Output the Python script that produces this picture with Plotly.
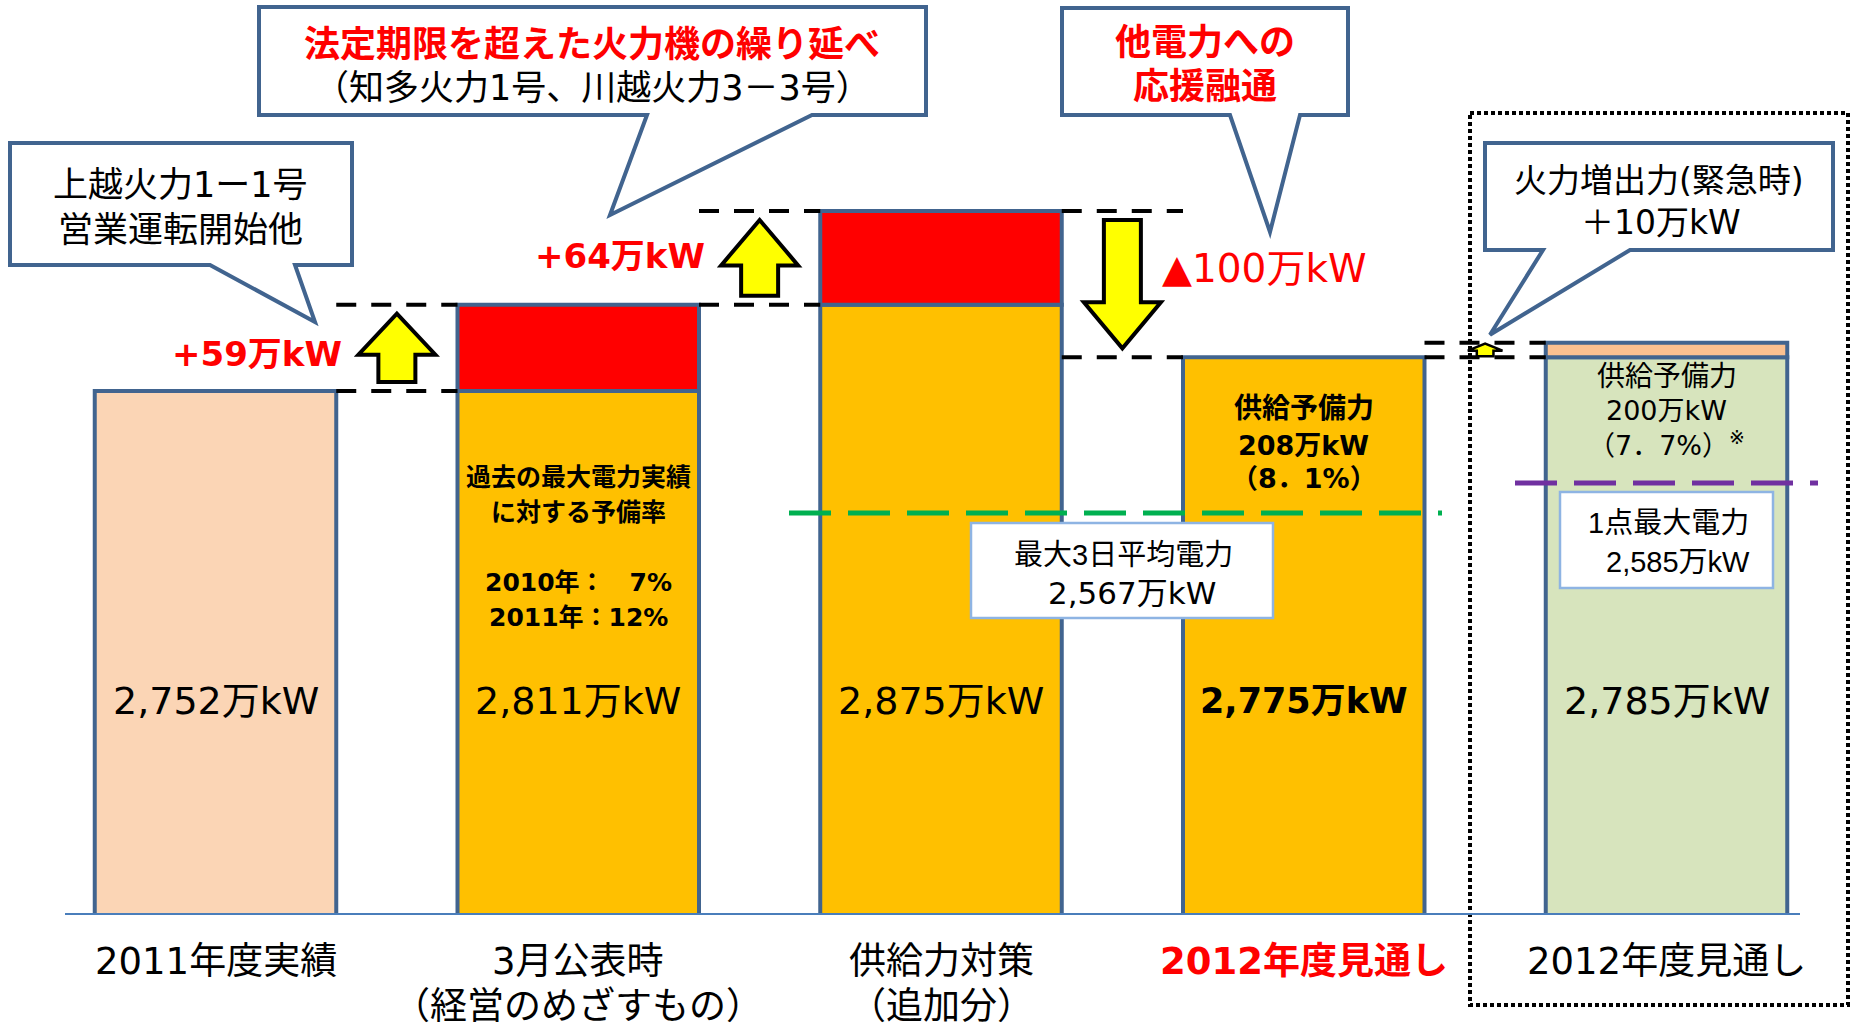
import plotly.graph_objects as go

# ---------------- data (万kW) ----------------
categories = ["2011年度実績", "3月公表時", "供給力対策", "2012年度見通し", "2012年度見通し"]
category_notes = ["", "（経営のめざすもの）", "（追加分）", "", ""]
supply_total = [2752, 2811, 2875, 2775, 2785]
supply_change = [None, 59, 64, -100, 10]
avg3day_peak = 2567      # 最大3日平均電力
one_point_peak = 2585    # 1点最大電力
reserve_main = [208, 8.1]   # 供給予備力 (万kW, %)
reserve_alt = [200, 7.7]
past_reserve_years = ["2010年", "2011年"]
past_reserve_rates = [7, 12]

# ---------------- derived ----------------
base_part, top_part = [], []
for t, c in zip(supply_total, supply_change):
    if c is not None and c > 0:
        base_part.append(t - c)
        top_part.append(c)
    else:
        base_part.append(t)
        top_part.append(None)
idx = list(range(len(categories)))

# ---------------- styles / geometry ----------------
FONT = "DejaVu Sans, Noto Sans CJK JP, sans-serif"
FONT_N = "Liberation Sans, Noto Sans CJK JP, sans-serif"
EDGE = "#41648f"
base_colors = ["#fbd5b5", "#ffc000", "#ffc000", "#ffc000", "#d7e4bd"]
top_colors = ["#fbd5b5", "#ff0000", "#ff0000", "#ffc000", "#fac090"]
W, H = 1857, 1028
PB = 914                 # plot bottom (px)
X0, DX = 215.5, 362.75   # px of first category, px per category
K = 1.4634               # px per 万kW on main axis
Y_FLOOR = 2394.6         # truncated axis origin
Y_TOP = Y_FLOOR + PB / K
Y2_RANGE = [2326.4, 2874.8]  # guide-line axis (schematic)
BW = 241.5 / DX


def xp(px):
    return px / W


def yp(py):
    return (PB - py) / PB


def xd(px):
    return (px - X0) / DX


def ypx(v):
    return PB - (v - Y_FLOOR) * K


fig = go.Figure()
fig.add_bar(x=idx, y=base_part, width=BW, marker=dict(color=base_colors, line=dict(color=EDGE, width=4)),
            hoverinfo="skip")
fig.add_bar(x=idx, y=top_part, base=base_part, width=BW,
            marker=dict(color=top_colors, line=dict(color=EDGE, width=4)), hoverinfo="skip")

# guide lines (schematic axis y2)
fig.add_scatter(x=[xd(789), xd(1442)], y=[avg3day_peak] * 2, yaxis="y2", mode="lines",
                line=dict(color="#00b050", width=5, dash="42px,17px"), hoverinfo="skip")
fig.add_scatter(x=[xd(1515), xd(1818)], y=[one_point_peak] * 2, yaxis="y2", mode="lines",
                line=dict(color="#7030a0", width=5, dash="42px,17px"), hoverinfo="skip")

shapes = []
ann = []


def text(x, y, s, size, color="black", bold=False, xref="paper", yref="paper", xanchor="center",
         family=FONT, yshift=0):
    ann.append(dict(x=x, y=y, xref=xref, yref=yref, text=(f"<b>{s}</b>" if bold else s), showarrow=False,
                    font=dict(size=size, color=color, family=family), xanchor=xanchor, yanchor="middle",
                    yshift=yshift))


# dotted frame around last category
shapes.append(dict(type="rect", xref="paper", yref="paper", x0=xp(1470), x1=xp(1848), y0=yp(113), y1=yp(1005),
                   line=dict(color="black", width=4, dash="4px,3px"), layer="above"))
# baseline
shapes.append(dict(type="line", xref="paper", yref="paper", x0=xp(65), x1=xp(1800), y0=0, y1=0,
                   line=dict(color="#4a7ebb", width=2), layer="above"))

# dashed level lines and block arrows between bars
arrow_scale = [1, 1, 1, 1, 0.45]
for i in range(1, len(supply_total)):
    a, b = supply_total[i - 1], supply_total[i]
    xl, xr = (i - 1) + BW / 2, i - BW / 2
    for v in (a, b):
        shapes.append(dict(type="line", xref="x", yref="y", x0=xl, x1=xr, y0=v, y1=v,
                           line=dict(color="black", width=4, dash="20px,15px"), layer="above"))
    s = arrow_scale[i]
    d = 1 if b > a else -1
    u = 1 / K
    inset = 9 if s == 1 else 1
    ys = a + d * inset * u
    ye = b - d * inset * u
    hl = min(46 * u, 0.6 * abs(ye - ys)) if s == 1 else 0.55 * abs(ye - ys)
    yh = ye - d * hl
    sw = 37 * s / 2 / DX
    hw = 77 * s / 2 / DX
    xc = i - 0.5
    pts = [(xc - sw, ys), (xc - sw, yh), (xc - hw, yh), (xc, ye), (xc + hw, yh), (xc + sw, yh), (xc + sw, ys)]
    path = "M " + " L ".join(f"{x},{y}" for x, y in pts) + " Z"
    shapes.append(dict(type="path", xref="x", yref="y", path=path, fillcolor="#ffff00",
                       line=dict(color="black", width=4 if s == 1 else 2.5), layer="above"))

# change labels next to arrows
for i in (1, 2, 3):
    c = supply_change[i]
    mid = (supply_total[i - 1] + supply_total[i]) / 2
    if c > 0:
        text(i - 0.5 - 53 / DX, mid, f"+{c}万kW", 34, color="#ff0000", bold=True, xref="x", yref="y",
             xanchor="right", yshift=-6 if i == 1 else 2)
    else:
        text(i - 0.5 + 38 / DX, mid, f"▲{-c}万kW", 39, color="#ff0000", xref="x", yref="y",
             xanchor="left", yshift=16)


# callouts
def callout(x0, y0, x1, y1, tl, tr, tip):
    pts = [(x0, y0), (x1, y0), (x1, y1), (tr, y1), tip, (tl, y1), (x0, y1)]
    path = "M " + " L ".join(f"{xp(x)},{yp(y)}" for x, y in pts) + " Z"
    shapes.append(dict(type="path", xref="paper", yref="paper", path=path, fillcolor="white",
                       line=dict(color=EDGE, width=4), layer="above"))


callout(10, 143, 352, 265, 210, 295, (315, 322))
callout(259, 7, 926, 115, 647, 812, (610, 215))
callout(1062, 8, 1348, 115, 1230, 1300, (1270, 232))
callout(1485, 143, 1833, 250, 1543, 1630, (1490, ypx(supply_total[4]) - 8))

text(xp(180), yp(185), "上越火力1ー1号", 35)
text(xp(180), yp(230), "営業運転開始他", 35)
text(xp(592), yp(44), "法定期限を超えた火力機の繰り延べ", 36, color="#ff0000", bold=True)
text(xp(592), yp(88), "（知多火力1号、川越火力3－3号）", 35)
text(xp(1205), yp(43), "他電力への", 36, color="#ff0000", bold=True)
text(xp(1205), yp(86), "応援融通", 36, color="#ff0000", bold=True)
text(xp(1659), yp(180), "火力増出力(緊急時)", 33)
text(xp(1661), yp(222), f"＋{supply_change[4]}万kW", 33)

# guide boxes
shapes.append(dict(type="rect", xref="paper", yref="paper", x0=xp(971), x1=xp(1273), y0=yp(523), y1=yp(618),
                   fillcolor="white", line=dict(color="#8eb4e3", width=2.5), layer="above"))
shapes.append(dict(type="rect", xref="paper", yref="paper", x0=xp(1560), x1=xp(1773), y0=yp(492), y1=yp(588),
                   fillcolor="white", line=dict(color="#8eb4e3", width=2.5), layer="above"))
text(xp(1123), yp(555), "最大3日平均電力", 29, family=FONT_N)
text(xp(1132), yp(593), f"{avg3day_peak:,}万kW", 31)
text(xp(1668), yp(523), "1点最大電力", 29, family=FONT_N)
text(xp(1678), yp(562), f"{one_point_peak:,}万kW", 29, family=FONT_N)

# values inside bars
for i, v in enumerate(supply_total):
    text(i, yp(701), f"{v:,}万kW", 35 if i == 3 else 38, bold=(i == 3), xref="x")

# bar 2 notes
text(1, yp(477), "過去の最大電力実績", 25, bold=True, xref="x")
text(1, yp(512), "に対する予備率", 25, bold=True, xref="x")
text(1, yp(583), f"{past_reserve_years[0]}：　{past_reserve_rates[0]}%", 25, bold=True, xref="x")
text(1, yp(617), f"{past_reserve_years[1]}：{past_reserve_rates[1]}%", 25, bold=True, xref="x")

# bar 4 reserve
text(3, yp(408), "供給予備力", 28, bold=True, xref="x")
text(3, yp(445), f"{reserve_main[0]}万kW", 27, bold=True, xref="x")
text(3, yp(478), "（" + str(reserve_main[1]).replace(".", "．") + "%）", 27, bold=True, xref="x")

# bar 5 reserve
text(4, yp(376), "供給予備力", 28, xref="x")
text(4, yp(410), f"{reserve_alt[0]}万kW", 27, xref="x")
text(4, yp(443), "（" + str(reserve_alt[1]).replace(".", "．") + "%）<sup>※</sup>", 27, xref="x")

# category labels
for i, (c, n) in enumerate(zip(categories, category_notes)):
    red = (i == 3)
    text(i, yp(961), c, 37, color="#ff0000" if red else "black", bold=red, xref="x")
    if n:
        text(i, yp(1006), n, 37, xref="x")

fig.update_layout(
    width=W, height=H, margin=dict(l=0, r=0, t=0, b=H - PB, pad=0),
    paper_bgcolor="white", plot_bgcolor="white", showlegend=False, barmode="overlay",
    xaxis=dict(range=[xd(0), xd(W)], visible=False, fixedrange=True),
    yaxis=dict(range=[Y_FLOOR, Y_TOP], visible=False, fixedrange=True),
    yaxis2=dict(range=Y2_RANGE, overlaying="y", visible=False, fixedrange=True),
    shapes=shapes, annotations=ann,
)

fig.write_html("out.html", config={"displayModeBar": False},
               post_script="document.body.style.margin='0';document.body.style.overflow='hidden';")
